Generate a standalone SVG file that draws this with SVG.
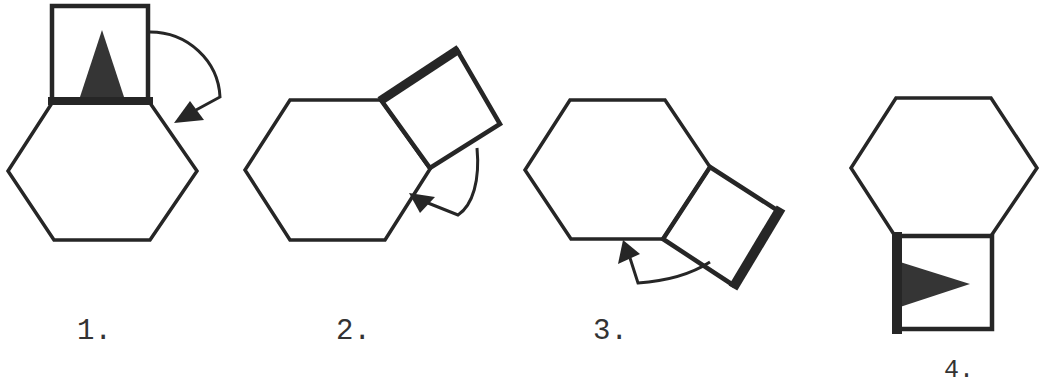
<svg xmlns="http://www.w3.org/2000/svg" width="1040" height="385" viewBox="0 0 1040 385">
<style>
.hex{fill:none;stroke:#262626;stroke-width:3.5;stroke-linejoin:miter}
.sq{fill:none;stroke:#262626;stroke-width:4.5;stroke-linejoin:miter}
.thick{stroke:#262626;stroke-width:9;stroke-linecap:butt}
.tri{fill:#353535;stroke:none}
.arc{fill:none;stroke:#262626;stroke-width:3}
.head{fill:#262626}
.lbl{font-family:"Liberation Mono","Courier New",monospace;font-size:29px;fill:#333}
</style>
<rect width="1040" height="385" fill="#fff"/>
<g id="panel1">
  <polygon class="hex" points="52,103 150,103 197,171 150,240 54,240 8,171"/>
  <rect class="sq" x="52" y="6" width="96" height="95"/>
  <polygon class="tri" points="102,30 125,100 79,100"/>
  <line class="thick" x1="48" y1="101" x2="153" y2="101" style="stroke-width:8"/>
  <text class="lbl" x="77" y="339">1.</text>
</g>
<g id="panel2">
  <polygon class="hex" points="290,100 381,100 430,169 385,240 290,240 245,170"/>
  <polygon class="sq" points="381,100 457,50 500,124 430,168"/>
  <line class="thick" x1="380" y1="101" x2="459" y2="49"/>
  <text class="lbl" x="336" y="339">2.</text>
</g>
<g id="panel3">
  <polygon class="hex" points="570,100 665,100 710,167 663,239 571,239 525,170"/>
  <polygon class="sq" points="710,167 780,212 733,285 663,239"/>
  <line class="thick" x1="781" y1="208" x2="733" y2="288" style="stroke-width:10"/>
  <text class="lbl" x="593" y="339">3.</text>
</g>
<g id="panel4">
  <polygon class="hex" points="896,98 991,98 1037,168 991,236 895,236 851,168"/>
  <polyline class="sq" points="897,236 992,236 992,329 897,329"/>
  <polygon class="tri" points="900,262 970,284 900,307"/>
  <line class="thick" x1="897" y1="232" x2="897" y2="334" style="stroke-width:10"/>
  <text class="lbl" x="944" y="377" style="font-size:25px">4.</text>
</g>
<g id="connectors">
  <path class="arc" d="M150,32 A70,68 0 0 1 220,97 L196,110"/>
  <polygon class="head" points="174,123 190,101 204,120"/>
  <path class="arc" d="M477,148 C480,180 473,205 458,215 L428,203"/>
  <polygon class="head" points="409,193 420,213 435,197"/>
  <path class="arc" d="M710,262 Q682,280 638,283 L630,258"/>
  <polygon class="head" points="623,240 618,264 640,254"/>
</g>
</svg>
